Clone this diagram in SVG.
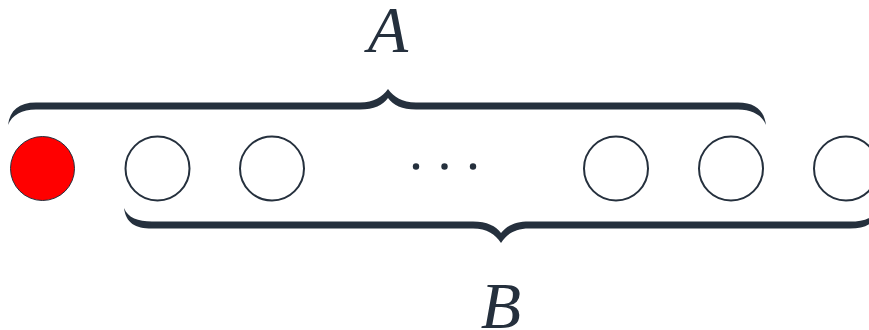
<svg xmlns="http://www.w3.org/2000/svg" width="869" height="330" viewBox="0 0 869 330">
<style>
.c{fill:#fff;stroke:#25303d;stroke-width:2}
.r{fill:#ff0000;stroke:#25303d;stroke-width:1}
.br{fill:#25303d;stroke:none}
.d{fill:#25303d}
.lbl{font-family:"Liberation Serif",serif;font-style:italic;font-size:66px;fill:#25303d;text-anchor:middle}
</style>
<rect width="869" height="330" fill="#fff"/>
<g id="braces">
<path id="braceA" class="br" d="M8,125 C10,110 19,102.5 36,102.5 L360,102.5 C374,102.5 382,97 388,89 C394,97 402,102.5 416,102.5 L738,102.5 C755,102.5 764,110 766,125 C762,115 752,109.5 738,109.5 L416,109.5 C402,109.5 393,105 388,98 C383,105 374,109.5 360,109.5 L36,109.5 C22,109.5 12,115 8,125 Z"/>
<path id="braceB" class="br" d="M124,208 C128,218 138,221.5 152,221.5 L473,221.5 C487,221.5 496,226 501,233 C506,226 515,221.5 529,221.5 L850,221.5 C864,221.5 874,218 878,208 C876,223 867,228.5 850,228.5 L529,228.5 C515,228.5 507,234 501,243 C495,234 487,228.5 473,228.5 L152,228.5 C135,228.5 126,223 124,208 Z"/>
</g>
<g id="n0"><circle class="r" cx="42.5" cy="168.5" r="32"/></g>
<g id="n1"><circle class="c" cx="157.5" cy="168.5" r="32"/></g>
<g id="n2"><circle class="c" cx="272" cy="168.5" r="32"/></g>
<g id="dots">
<circle class="d" cx="416" cy="166.5" r="3.2"/>
<circle class="d" cx="444.5" cy="166.5" r="3.2"/>
<circle class="d" cx="473" cy="166.5" r="3.2"/>
</g>
<g id="n3"><circle class="c" cx="616" cy="168.5" r="32"/></g>
<g id="n4"><circle class="c" cx="731" cy="168.5" r="32"/></g>
<g id="n5"><circle class="c" cx="846" cy="168.5" r="32"/></g>
<text id="labelA" class="lbl" x="388" y="52">A</text>
<text id="labelB" class="lbl" x="501" y="328">B</text>
</svg>
